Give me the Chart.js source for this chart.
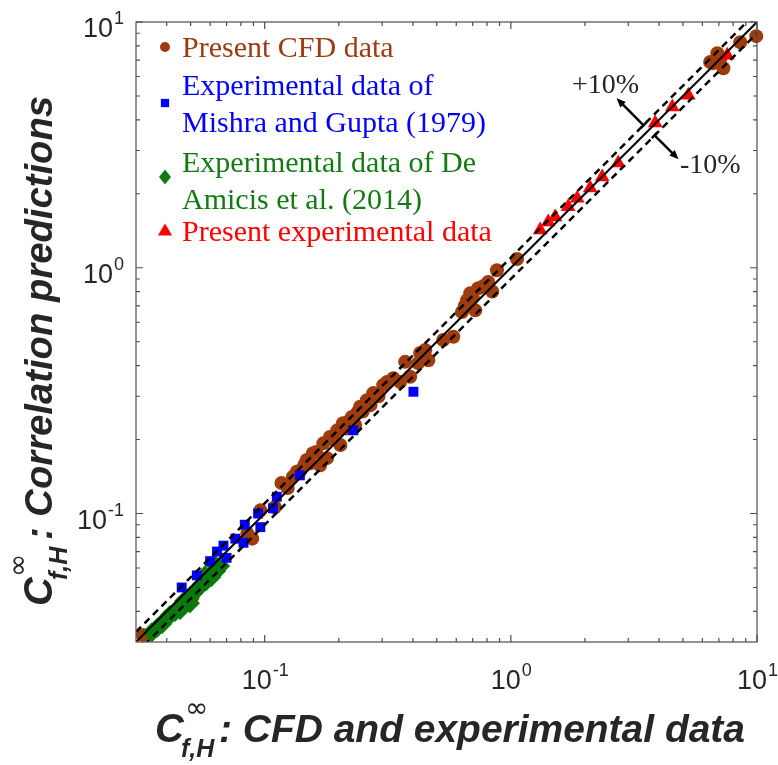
<!DOCTYPE html>
<html>
<head>
<meta charset="utf-8">
<script src="https://cdn.jsdelivr.net/npm/chart.js@4.4.0/dist/chart.umd.min.js"></script>
<style>
  body { margin: 0; background: #fff; }
</style>
</head>
<body>
<canvas id="chart" width="778" height="765"></canvas>
<script>
// axis range + ticks (both axes log, same range)
const axisMin = 0.03;
const axisMax = 10;
const majorTicks = [0.1, 1, 10];
const tickExponents = ['-1', '0', '1'];
const minorTicks = [0.04, 0.05, 0.06, 0.07, 0.08, 0.09,
  0.2, 0.3, 0.4, 0.5, 0.6, 0.7, 0.8, 0.9,
  2, 3, 4, 5, 6, 7, 8, 9];
const bandFactors = [1.1, 0.9]; // +10% / -10%

// Present CFD data
const cfdX = [0.032, 0.046, 0.051, 0.085, 0.089, 0.096, 0.110, 0.117, 0.124, 0.130, 0.135, 0.140,
  0.145, 0.148, 0.153, 0.157, 0.162, 0.168, 0.173, 0.179, 0.184, 0.190, 0.197, 0.203, 0.208,
  0.215, 0.220, 0.226, 0.233, 0.238, 0.244, 0.250, 0.260, 0.269, 0.276, 0.290, 0.303, 0.314,
  0.333, 0.355, 0.372, 0.390, 0.420, 0.428, 0.449, 0.462, 0.531, 0.584, 0.633, 0.650, 0.664,
  0.684, 0.700, 0.717, 0.737, 0.770, 0.809, 0.840, 0.878, 1.06, 6.45, 6.64, 6.90, 7.10, 7.30,
  8.55, 9.93];
const cfdY = [0.032, 0.042, 0.046, 0.083, 0.079, 0.103, 0.106, 0.133, 0.127, 0.141, 0.148, 0.150,
  0.158, 0.165, 0.160, 0.176, 0.178, 0.157, 0.193, 0.168, 0.205, 0.200, 0.218, 0.190, 0.233,
  0.222, 0.238, 0.247, 0.229, 0.258, 0.272, 0.260, 0.289, 0.276, 0.309, 0.300, 0.333, 0.343,
  0.355, 0.343, 0.414, 0.360, 0.409, 0.450, 0.463, 0.420, 0.508, 0.524, 0.661, 0.700, 0.738,
  0.787, 0.760, 0.671, 0.825, 0.840, 0.876, 0.800, 0.977, 1.085, 6.87, 6.80, 7.47, 7.10, 6.48,
  8.27, 8.76];

// Mishra and Gupta (1979)
const mishraX = [0.046, 0.053, 0.060, 0.064, 0.068, 0.070, 0.076, 0.082, 0.083, 0.094, 0.096,
  0.108, 0.112, 0.139, 0.229, 0.402];
const mishraY = [0.050, 0.056, 0.064, 0.070, 0.074, 0.066, 0.079, 0.076, 0.090, 0.100, 0.088,
  0.105, 0.117, 0.143, 0.218, 0.313];

// De Amicis et al. (2014)
const amicisX = [0.0348, 0.0365, 0.0383, 0.0397, 0.0412, 0.0432, 0.0453, 0.0453, 0.0470, 0.0488,
  0.0497, 0.0511, 0.0531, 0.0557, 0.0572, 0.0578, 0.0606, 0.0629, 0.0635, 0.0659];
const amicisY = [0.0329, 0.0342, 0.0355, 0.0371, 0.0386, 0.0397, 0.0419, 0.0405, 0.0440, 0.0452,
  0.0431, 0.0473, 0.0492, 0.0516, 0.0561, 0.0530, 0.0550, 0.0617, 0.0583, 0.0611];

// Present experimental data
const expX = [1.315, 1.418, 1.513, 1.71, 1.86, 2.10, 2.35, 2.73, 3.86, 4.53, 5.26, 7.57];
const expY = [1.425, 1.535, 1.61, 1.77, 1.92, 2.11, 2.34, 2.67, 3.88, 4.51, 5.04, 7.33];

const legendItems = [
  { lines: ['Present CFD data'], color: '#9a3b10', style: 'circle' },
  { lines: ['Experimental data of', 'Mishra and Gupta (1979)'], color: '#0000ff', style: 'rect' },
  { lines: ['Experimental data of De', 'Amicis et al. (2014)'], color: '#147a14', style: 'rectRot' },
  { lines: ['Present experimental data'], color: '#ff0000', style: 'triangle' }
];

const toPoints = (xs, ys) => xs.map((v, i) => ({ x: v, y: ys[i] }));

const textColor = '#262626';

function drawMarker(ctx, style, x, y, r, color) {
  ctx.fillStyle = color;
  ctx.beginPath();
  if (style === 'circle') {
    ctx.arc(x, y, r, 0, Math.PI * 2);
  } else if (style === 'rect') {
    ctx.rect(x - r * 0.75, y - r * 0.75, r * 1.5, r * 1.5);
  } else if (style === 'rectRot') {
    ctx.moveTo(x, y - r); ctx.lineTo(x + r * 0.8, y); ctx.lineTo(x, y + r); ctx.lineTo(x - r * 0.8, y);
    ctx.closePath();
  } else {
    ctx.moveTo(x, y - r); ctx.lineTo(x + r * 0.95, y + r * 0.6); ctx.lineTo(x - r * 0.95, y + r * 0.6);
    ctx.closePath();
  }
  ctx.fill();
}

// draw text squeezed/stretched to a given width
function fitText(ctx, text, x, y, width) {
  const w = ctx.measureText(text).width;
  ctx.save();
  ctx.translate(x, y);
  ctx.scale(width / w, 1);
  ctx.fillText(text, 0, 0);
  ctx.restore();
}

function drawArrow(ctx, x0, y0, x1, y1) {
  const ang = Math.atan2(y1 - y0, x1 - x0);
  const head = 10;
  ctx.beginPath();
  ctx.moveTo(x0, y0);
  ctx.lineTo(x1 - Math.cos(ang) * head * 0.8, y1 - Math.sin(ang) * head * 0.8);
  ctx.stroke();
  // tail bar
  ctx.beginPath();
  ctx.moveTo(x0 - Math.sin(ang) * 4, y0 + Math.cos(ang) * 4);
  ctx.lineTo(x0 + Math.sin(ang) * 4, y0 - Math.cos(ang) * 4);
  ctx.stroke();
  ctx.beginPath();
  ctx.moveTo(x1, y1);
  ctx.lineTo(x1 - Math.cos(ang - 0.4) * head, y1 - Math.sin(ang - 0.4) * head);
  ctx.lineTo(x1 - Math.cos(ang + 0.4) * head, y1 - Math.sin(ang + 0.4) * head);
  ctx.closePath();
  ctx.fill();
}

const frame = {
  id: 'frame',
  afterDraw(chart) {
    const { ctx, chartArea: a } = chart;
    const xs = chart.scales.x, ys = chart.scales.y;
    ctx.save();

    // box
    ctx.strokeStyle = '#4d4d4d';
    ctx.lineWidth = 1.2;
    ctx.strokeRect(a.left, a.top, a.right - a.left, a.bottom - a.top);

    // inward ticks on all four sides
    const allTicks = majorTicks.map(v => [v, 7]).concat(minorTicks.map(v => [v, 4]));
    ctx.beginPath();
    allTicks.forEach(([v, len]) => {
      const px = xs.getPixelForValue(v);
      const py = ys.getPixelForValue(v);
      ctx.moveTo(px, a.bottom); ctx.lineTo(px, a.bottom - len);
      ctx.moveTo(px, a.top); ctx.lineTo(px, a.top + len);
      ctx.moveTo(a.left, py); ctx.lineTo(a.left + len, py);
      ctx.moveTo(a.right, py); ctx.lineTo(a.right - len, py);
    });
    ctx.stroke();

    // tick labels 10^n
    ctx.fillStyle = textColor;
    ctx.textBaseline = 'alphabetic';
    const baseFont = '27px "Liberation Sans", Arial, sans-serif';
    const expFont = '18px "Liberation Sans", Arial, sans-serif';
    majorTicks.forEach((v, i) => {
      ctx.font = baseFont;
      const wb = ctx.measureText('10').width;
      ctx.font = expFont;
      const we = ctx.measureText(tickExponents[i]).width;
      // x axis
      const px = xs.getPixelForValue(v);
      let left = px - (wb + we) / 2;
      ctx.font = baseFont; ctx.fillText('10', left, 689);
      ctx.font = expFont; ctx.fillText(tickExponents[i], left + wb + 1, 676);
      // y axis
      const py = ys.getPixelForValue(v);
      left = 123 - wb - we;
      ctx.font = baseFont; ctx.fillText('10', left, py + 15);
      ctx.font = expFont; ctx.fillText(tickExponents[i], left + wb + 1, py + 2);
    });

    // x axis title
    ctx.fillStyle = textColor;
    ctx.font = 'italic bold 40px "Liberation Sans", Arial, sans-serif';
    ctx.fillText('C', 155, 742);
    ctx.font = '28px "DejaVu Sans", sans-serif';
    ctx.fillText('\u221E', 185, 717);
    ctx.font = 'italic bold 25px "Liberation Sans", Arial, sans-serif';
    ctx.fillText('f,H', 181, 757);
    ctx.font = 'italic bold 38px "Liberation Sans", Arial, sans-serif';
    fitText(ctx, ': CFD and experimental data', 219, 742, 526);

    // y axis title (rotated)
    ctx.save();
    ctx.translate(52, 606);
    ctx.rotate(-Math.PI / 2);
    ctx.font = 'italic bold 40px "Liberation Sans", Arial, sans-serif';
    ctx.fillText('C', 0, 0);
    ctx.font = '28px "DejaVu Sans", sans-serif';
    ctx.fillText('\u221E', 29, -25);
    ctx.font = 'italic bold 25px "Liberation Sans", Arial, sans-serif';
    ctx.fillText('f,H', 26, 15);
    ctx.font = 'italic bold 38px "Liberation Sans", Arial, sans-serif';
    fitText(ctx, ': Correlation predictions', 66, 0, 444);
    ctx.restore();

    // legend
    ctx.font = '30px "Liberation Serif", "Times New Roman", serif';
    const rows = [[47, 57], [103, 95], [177, 172], [231, 241]];
    legendItems.forEach((item, i) => {
      const [my, base] = rows[i];
      const r = item.style === 'circle' ? 5 : item.style === 'rect' ? 5.5 : 7.5;
      drawMarker(ctx, item.style, 165, my, r, item.color);
      ctx.fillStyle = item.color;
      item.lines.forEach((t, j) => ctx.fillText(t, 182, base + j * 37));
    });

    // +-10% annotations
    const ax = xs.getPixelForValue(3.8), ay = ys.getPixelForValue(3.8);
    ctx.strokeStyle = '#000';
    ctx.fillStyle = '#000';
    ctx.lineWidth = 2.5;
    drawArrow(ctx, ax - 10, ay, ax - 37, ay - 27);
    drawArrow(ctx, ax + 1, ay + 10, ax + 25, ay + 34);
    ctx.fillStyle = textColor;
    ctx.font = '28px "Liberation Serif", "Times New Roman", serif';
    ctx.fillText('+10%', 572, 93);
    ctx.fillText('-10%', 680, 173);

    ctx.restore();
  }
};

const refLine = (f, dash, width) => ({
  type: 'line',
  data: [{ x: axisMin, y: axisMin * f }, { x: axisMax, y: axisMax * f }],
  borderColor: '#000',
  borderWidth: width,
  borderDash: dash,
  pointRadius: 0,
  fill: false,
  order: 0
});

new Chart(document.getElementById('chart').getContext('2d'), {
  type: 'scatter',
  data: {
    datasets: [
      refLine(1, [], 2),
      refLine(bandFactors[0], [7, 5], 2.5),
      refLine(bandFactors[1], [7, 5], 2.5),
      {
        label: 'Mishra and Gupta (1979)', data: toPoints(mishraX, mishraY),
        pointStyle: 'rect', pointRadius: 7, backgroundColor: '#0000ff', borderWidth: 0, clip: false, order: 1
      },
      {
        label: 'De Amicis et al. (2014)', data: toPoints(amicisX, amicisY),
        pointStyle: 'rectRot', pointRadius: 10, backgroundColor: '#0a7a0a', borderWidth: 0, clip: false, order: 2
      },
      {
        label: 'Present experimental data', data: toPoints(expX, expY),
        pointStyle: 'triangle', pointRadius: 8.5, backgroundColor: '#ff0000', borderWidth: 0, clip: false, order: 3
      },
      {
        label: 'Present CFD data', data: toPoints(cfdX, cfdY),
        pointStyle: 'circle', pointRadius: 7, backgroundColor: '#a03c0c', borderWidth: 0, clip: false, order: 4
      }
    ]
  },
  options: {
    responsive: false,
    animation: false,
    layout: { padding: { left: 136, right: 21, top: 22, bottom: 123 } },
    plugins: { legend: { display: false }, tooltip: { enabled: false } },
    scales: {
      x: { type: 'logarithmic', min: axisMin, max: axisMax, display: false },
      y: { type: 'logarithmic', min: axisMin, max: axisMax, display: false }
    }
  },
  plugins: [frame]
});
</script>
</body>
</html>
